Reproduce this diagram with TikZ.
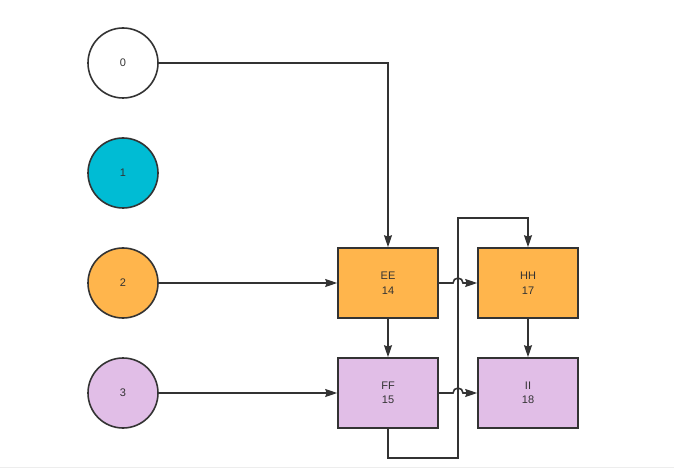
\documentclass[tikz,border=0pt]{standalone}
\usepackage{fontspec}
\setmainfont{Liberation Sans}
\usetikzlibrary{arrows.meta,calc}
\definecolor{strokec}{HTML}{333333}
\definecolor{orangec}{HTML}{FFB54C}
\definecolor{cyanc}{HTML}{00BCD4}
\definecolor{purplec}{HTML}{E1BEE7}
\definecolor{textc}{HTML}{333333}
\begin{document}
\begin{tikzpicture}[x=1pt,y=1pt,
  circnode/.style={circle,draw=strokec,line width=1.6pt,minimum size=70pt,inner sep=0pt,font=\fontsize{11}{12}\selectfont,text=textc},
  boxnode/.style={rectangle,draw=strokec,line width=1.6pt,minimum width=100pt,minimum height=70pt,inner sep=0pt,align=center,font=\fontsize{11}{14.5}\selectfont,text=textc},
  conn/.style={draw=strokec,line width=1.6pt,-{Stealth[length=12pt,width=8pt,inset=1.5pt]}},
]
\useasboundingbox (0,0) rectangle (674,469);
\draw[draw=black!7,line width=1pt] (0,1.5) -- (674,1.5);
\node[circnode,fill=white] (c0) at (123,406) {0};
\node[circnode,fill=cyanc] (c1) at (123,296) {1};
\node[circnode,fill=orangec] (c2) at (123,186) {2};
\node[circnode,fill=purplec] (c3) at (123,76) {3};
\node[boxnode,fill=orangec] (ee) at (388,186) {EE\\14};
\node[boxnode,fill=orangec] (hh) at (528,186) {HH\\17};
\node[boxnode,fill=purplec] (ff) at (388,76) {FF\\15};
\node[boxnode,fill=purplec] (ii) at (528,76) {II\\18};
\coordinate (r1) at (388,11);
\coordinate (r2) at (458,11);
\coordinate (r3) at (458,251);
\coordinate (r4) at (528,251);
\coordinate (h1a) at (453,186);
\coordinate (h2a) at (453,76);
\draw[conn] (c0.east) -| (ee.north);
\draw[conn] (c2.east) -- (ee.west);
\draw[conn] (c3.east) -- (ff.west);
\draw[conn] (ee.south) -- (ff.north);
\draw[conn] (hh.south) -- (ii.north);
\draw[conn] (ff.south) -- (r1) -- (r2) -- (r3) -- (r4) -- (hh.north);
\draw[conn] (ee.east) -- (h1a) arc[start angle=180,end angle=0,radius=5pt] -- (hh.west);
\draw[conn] (ff.east) -- (h2a) arc[start angle=180,end angle=0,radius=5pt] -- (ii.west);
\end{tikzpicture}
\end{document}
